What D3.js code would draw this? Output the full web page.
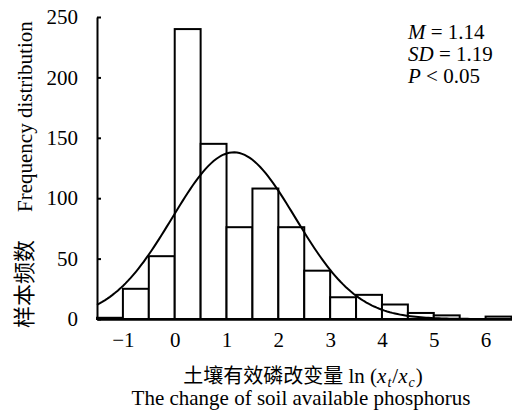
<!DOCTYPE html>
<html>
<head>
<meta charset="utf-8">
<script src="https://cdn.jsdelivr.net/npm/d3@7"></script>
<style>
  body { margin: 0; background: #fff; }
</style>
</head>
<body>
<svg id="chart"></svg>
<script>
//histogram bins (lower edge of each 0.5 wide bin) and counts
const binStarts = [-1.5, -1, -0.5, 0, 0.5, 1, 1.5, 2, 2.5, 3, 3.5, 4, 4.5, 5, 5.5, 6];
const counts = [1, 25, 52, 240, 145, 76, 108, 76, 40, 18, 20, 12, 5, 3, 0, 2];
const binWidth = 0.5;

//axis ticks
const xTicks = [-1, 0, 1, 2, 3, 4, 5, 6];
const yTicks = [0, 50, 100, 150, 200, 250];

//fitted normal curve stats
const statLabels = [["M", " = 1.14"], ["SD", " = 1.19"], ["P", " < 0.05"]];
const mean = 1.14, sd = 1.19;

const serif = '"Liberation Serif", "Times New Roman", serif';
const cjk = '"Noto Sans CJK SC", sans-serif';

const w = 512, h = 412;
const svg = d3.select("#chart").attr("width", w).attr("height", h);

//scales
const x = d3.scaleLinear().domain([-1.5, 6.5]).range([97, 511.5]);
const y = d3.scaleLinear().domain([0, 250]).range([319, 17]);

//bars
svg.append("g")
  .selectAll("rect")
  .data(binStarts)
  .join("rect")
  .attr("x", (d) => x(d))
  .attr("y", (d, i) => y(counts[i]))
  .attr("width", x(binWidth) - x(0))
  .attr("height", (d, i) => y(0) - y(counts[i]))
  .attr("fill", "#fff")
  .attr("stroke", "#000")
  .attr("stroke-width", 2);

//normal curve scaled to the counts
const total = d3.sum(counts);
const density = (v) => total * binWidth / (sd * Math.sqrt(2 * Math.PI)) * Math.exp(-0.5 * ((v - mean) / sd) ** 2);
const curveX = d3.range(-1.5, 6.5001, 0.05);
svg.append("path")
  .datum(curveX)
  .attr("fill", "none")
  .attr("stroke", "#000")
  .attr("stroke-width", 2)
  .attr("d", d3.line().x((d) => x(d)).y((d) => y(density(d))));

//y axis
const yAxis = svg.append("g")
  .attr("transform", `translate(${x(-1.5)},0)`)
  .call(d3.axisLeft(y).tickValues(yTicks).tickSizeInner(-4).tickSizeOuter(0).tickPadding(19));
yAxis.attr("font-family", null).attr("font-size", null);
yAxis.select(".domain").attr("stroke-width", 2);
yAxis.selectAll(".tick line").attr("stroke-width", 2);
yAxis.selectAll("text").style("font-family", serif).style("font-size", "21px");

//x axis
const xAxis = svg.append("g")
  .attr("transform", `translate(0,${y(0)})`)
  .call(d3.axisBottom(x).tickValues(xTicks).tickSize(0).tickPadding(13));
xAxis.attr("font-family", null).attr("font-size", null);
xAxis.select(".domain").attr("stroke-width", 2.5);
xAxis.selectAll("text").style("font-family", serif).style("font-size", "21px");

//axis titles
const xTitle = svg.append("text")
  .attr("x", 303).attr("y", 383)
  .attr("text-anchor", "middle")
  .style("font-family", serif)
  .style("font-size", "21px");
xTitle.append("tspan").style("font-family", cjk).style("font-size", "20px").text("土壤有效磷改变量");
xTitle.append("tspan").text(" ln (");
xTitle.append("tspan").attr("font-style", "italic").text("x");
xTitle.append("tspan").attr("font-style", "italic").style("font-size", "14px").attr("dx", 1).attr("dy", 4).text("t");
xTitle.append("tspan").attr("dx", 1).attr("dy", -4).text("/");
xTitle.append("tspan").attr("font-style", "italic").text("x");
xTitle.append("tspan").attr("font-style", "italic").style("font-size", "14px").attr("dx", 1).attr("dy", 4).text("c");
xTitle.append("tspan").attr("dx", 1).attr("dy", -4).text(")");

svg.append("text")
  .attr("x", 301).attr("y", 405)
  .attr("text-anchor", "middle")
  .style("font-family", serif)
  .style("font-size", "21px")
  .text("The change of soil available phosphorus");

const yTitle = svg.append("text")
  .attr("transform", "translate(32,0) rotate(-90)")
  .style("font-family", serif)
  .style("font-size", "21px");
yTitle.append("tspan").attr("x", -328).style("font-family", cjk).style("font-size", "22px").text("样本频数");
yTitle.append("tspan").attr("x", -212).text("Frequency distribution");

//stats block
statLabels.forEach(([k, v], i) => {
  const t = svg.append("text")
    .attr("x", 408).attr("y", 39 + i * 22)
    .style("font-family", serif)
    .style("font-size", "21px");
  t.append("tspan").attr("font-style", "italic").text(k);
  t.append("tspan").text(v);
});
</script>
</body>
</html>
